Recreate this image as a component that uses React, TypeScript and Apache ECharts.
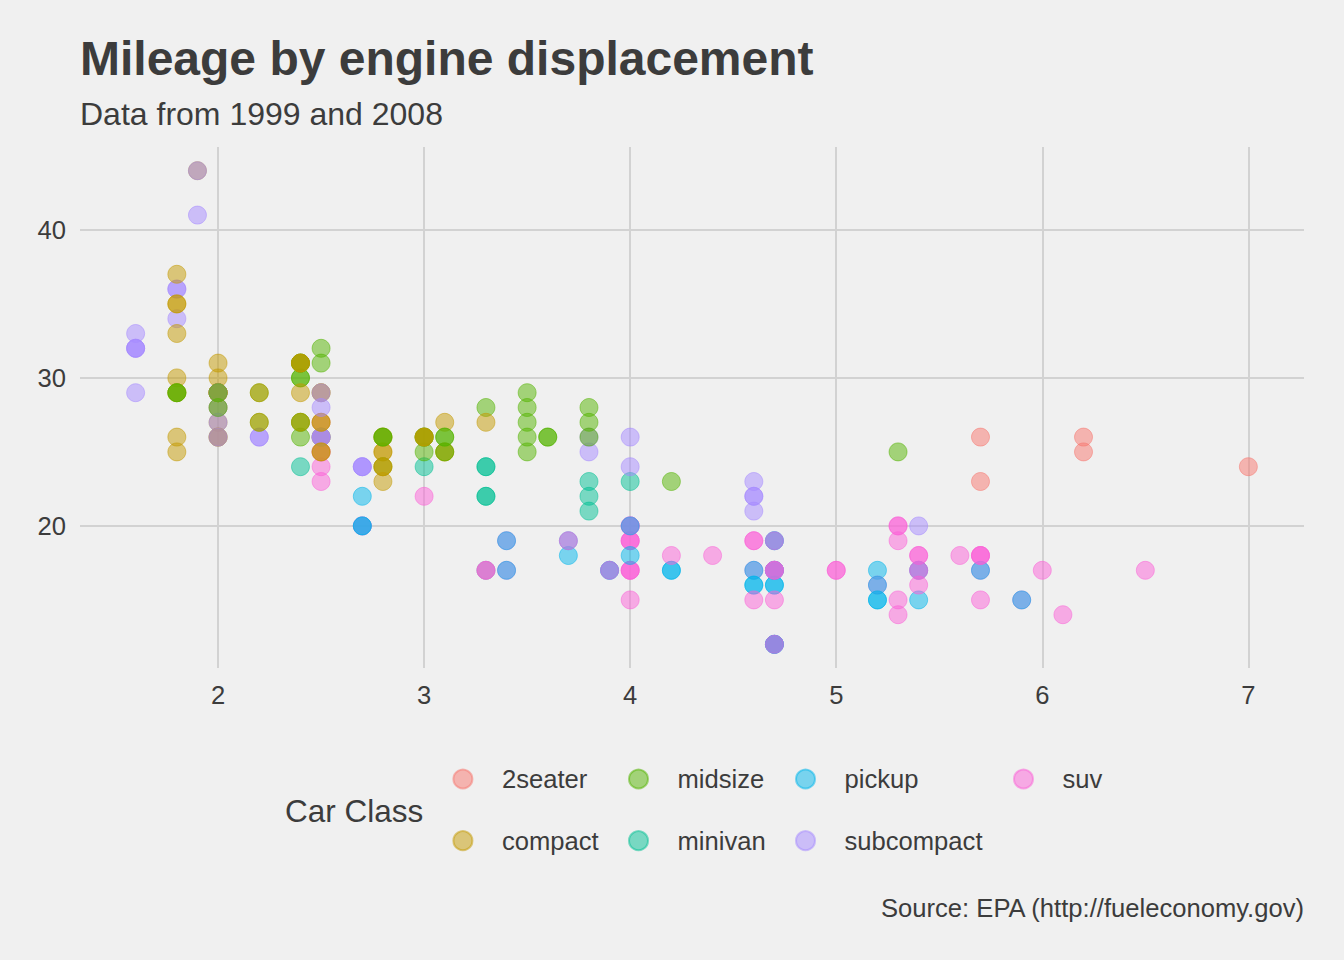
import React, { useEffect, useRef } from "react";
import * as echarts from "echarts";

// mpg data in original row order: engine displacement (L) and highway mileage (mpg)
const displ: number[] = [
  1.8, 1.8, 2.0, 2.0, 2.8, 2.8, 3.1, 1.8, 1.8, 2.0, 2.0, 2.8, 2.8, 3.1, 3.1,
  2.8, 3.1, 4.2,
  5.3, 5.3, 5.3, 5.7, 6.0,
  5.7, 5.7, 6.2, 6.2, 7.0,
  5.3, 5.3, 5.7, 6.5,
  2.4, 2.4, 3.1, 3.5, 3.6,
  2.4, 3.0, 3.3, 3.3, 3.3, 3.3, 3.3, 3.8, 3.8, 3.8, 4.0,
  3.7, 3.7, 3.9, 3.9, 4.7, 4.7, 4.7, 5.2, 5.2,
  3.9, 4.7, 4.7, 4.7, 5.2, 5.7, 5.9,
  4.7, 4.7, 4.7, 4.7, 4.7, 4.7, 5.2, 5.2, 5.7, 5.9,
  4.6, 5.4, 5.4, 4.0, 4.0, 4.0, 4.0, 4.6, 5.0,
  4.2, 4.2, 4.6, 4.6, 4.6, 5.4, 5.4,
  3.8, 3.8, 4.0, 4.0, 4.6, 4.6, 4.6, 4.6, 5.4, 1.6, 1.6, 1.6, 1.6, 1.6, 1.8, 1.8, 1.8, 2.0,
  2.4, 2.4, 2.4, 2.4, 2.5, 2.5, 3.3,
  2.0, 2.0, 2.0, 2.0, 2.7, 2.7, 2.7,
  3.0, 3.7, 4.0, 4.7, 4.7, 4.7, 5.7, 6.1, 4.0, 4.2, 4.4, 4.6, 5.4, 5.4, 5.4, 4.0, 4.0, 4.6, 5.0,
  2.4, 2.4,
  2.5, 2.5, 3.5, 3.5, 3.0, 3.0, 3.5,
  3.3, 3.3, 4.0, 5.6,
  3.1, 3.8, 3.8, 3.8, 5.3,
  2.5, 2.5, 2.5, 2.5, 2.5, 2.5,
  2.2, 2.2, 2.5, 2.5,
  2.5, 2.5, 2.5, 2.5,
  2.7, 2.7, 3.4, 3.4, 4.0, 4.7,
  2.2, 2.2, 2.4, 2.4, 3.0, 3.0, 3.5,
  2.2, 2.2, 2.4, 2.4, 3.0, 3.0, 3.3, 1.8, 1.8, 1.8, 1.8, 1.8,
  4.7, 5.7,
  2.7, 2.7, 2.7, 3.4, 3.4, 4.0, 4.0,
  2.0, 2.0, 2.0, 2.0, 2.8, 1.9, 2.0, 2.0, 2.0, 2.0, 2.5, 2.5, 2.8, 2.8,
  1.9, 1.9, 2.0, 2.0, 2.5, 2.5,
  1.8, 1.8, 2.0, 2.0, 2.8, 2.8, 3.6,
];
const hwy: number[] = [
  29, 29, 31, 30, 26, 26, 27, 26, 25, 28, 27, 25, 25, 25, 25,
  24, 25, 23,
  20, 15, 20, 17, 17,
  26, 23, 26, 25, 24,
  19, 14, 15, 17,
  27, 30, 26, 29, 26,
  24, 24, 22, 22, 24, 24, 17, 22, 21, 23, 23,
  19, 18, 17, 17, 19, 19, 12, 17, 15,
  17, 17, 12, 17, 16, 18, 15,
  16, 12, 17, 17, 16, 12, 15, 16, 17, 15,
  17, 17, 18, 17, 19, 17, 19, 19, 17,
  17, 17, 16, 16, 17, 15, 17,
  26, 25, 26, 24, 21, 22, 23, 22, 20, 33, 32, 32, 29, 32, 34, 36, 36, 29,
  26, 27, 30, 31, 26, 26, 28,
  26, 29, 28, 27, 24, 24, 24,
  22, 19, 20, 17, 12, 19, 18, 14, 15, 18, 18, 15, 17, 16, 18, 17, 19, 19, 17,
  29, 27,
  31, 32, 27, 26, 26, 25, 25,
  17, 17, 20, 18,
  26, 26, 27, 28, 25,
  25, 24, 27, 25, 26, 23,
  26, 26, 26, 26,
  25, 27, 25, 27,
  20, 20, 19, 17, 20, 17,
  29, 27, 31, 31, 26, 26, 28,
  27, 29, 31, 31, 26, 26, 27, 30, 33, 35, 37, 35,
  15, 18,
  20, 20, 22, 17, 19, 18, 20,
  29, 26, 29, 29, 24, 44, 29, 26, 29, 29, 29, 29, 23, 24,
  44, 41, 29, 26, 28, 29,
  29, 29, 28, 29, 26, 26, 26,
];
// class of each consecutive run of rows: [class, number of rows]
const classRuns: [string, number][] = [
  ["compact", 15], ["midsize", 3], ["suv", 5], ["2seater", 5], ["suv", 4], ["midsize", 5], ["minivan", 11],
  ["pickup", 9], ["suv", 7], ["pickup", 10], ["suv", 9], ["pickup", 7], ["subcompact", 18], ["midsize", 7],
  ["subcompact", 7], ["suv", 19], ["compact", 2], ["midsize", 7], ["suv", 4], ["midsize", 5], ["suv", 6],
  ["subcompact", 4], ["compact", 4], ["suv", 6], ["midsize", 7], ["compact", 12], ["suv", 2], ["pickup", 7],
  ["compact", 14], ["subcompact", 6], ["midsize", 7],
];

const classNames = ["2seater", "compact", "midsize", "minivan", "pickup", "subcompact", "suv"];
const classColors = ["248,118,109", "196,154,0", "83,180,0", "0,192,148", "0,182,235", "165,138,255", "251,97,215"];

const xTicks = [2, 3, 4, 5, 6, 7];
const yTicks = [20, 30, 40];

const FONT = "'Liberation Sans', Arial, sans-serif";
const TEXT = "#3C3C3C";

// legend layout: [class index, icon centre x, icon centre y]
const legendSlots: number[][] = [
  [0, 462.7, 779], [1, 462.7, 840.7],
  [2, 638.3, 779], [3, 638.3, 840.7],
  [4, 805.3, 779], [5, 805.3, 840.7],
  [6, 1023.3, 779],
];

export default function App() {
  const ref = useRef<HTMLDivElement>(null);
  useEffect(() => {
    document.body.style.margin = "0";
    document.body.style.background = "#F0F0F0";
    const chart = echarts.init(ref.current!, undefined, { renderer: "svg" });

    const styleOf = (name: string) => {
      const c = classColors[classNames.indexOf(name)];
      return { color: `rgba(${c},0.5)`, borderColor: `rgba(${c},0.5)`, borderWidth: 1, opacity: 1 };
    };
    const rowClass: string[] = [];
    classRuns.forEach(([name, n]) => {
      for (let k = 0; k < n; k++) rowClass.push(name);
    });
    const points = displ.map((d, i) => ({ value: [d, hwy[i]], itemStyle: styleOf(rowClass[i]) }));

    const iconW = 68;
    const series: any[] = [
      {
        type: "scatter",
        name: "__grid",
        data: [],
        z: 0,
        silent: true,
        markLine: {
          silent: true,
          z: 0,
          symbol: ["none", "none"],
          label: { show: false },
          lineStyle: { color: "#D2D2D2", width: 2, type: "solid" },
          emphasis: { disabled: true },
          data: [...xTicks.map((v) => ({ xAxis: v })), ...yTicks.map((v) => ({ yAxis: v }))],
        },
      },
      {
        type: "scatter",
        name: "__points",
        data: points,
        symbol: "circle",
        symbolSize: 18,
        z: 2,
      },
      ...classNames.map((name) => ({
        type: "scatter",
        name,
        data: [],
        symbol: "circle",
        symbolSize: 18,
        itemStyle: styleOf(name),
      })),
    ];
    chart.setOption({
      animation: false,
      backgroundColor: "#F0F0F0",
      textStyle: { fontFamily: FONT },
      grid: { left: 80, right: 40, top: 147, bottom: 292, containLabel: false },
      xAxis: {
        type: "value",
        min: 1.33,
        max: 7.27,
        axisLine: { show: false },
        axisTick: { show: false },
        splitLine: { show: false },
        axisLabel: { customValues: xTicks, fontSize: 25.6, color: TEXT, margin: 14, fontFamily: FONT },
      },
      yAxis: {
        type: "value",
        min: 10.4,
        max: 45.6,
        axisLine: { show: false },
        axisTick: { show: false },
        splitLine: { show: false },
        axisLabel: { customValues: yTicks, fontSize: 25.6, color: TEXT, margin: 14, fontFamily: FONT },
      },
      legend: legendSlots.map(([ci, cx, cy]) => ({
        data: [classNames[ci]],
        left: cx - 10.3,
        top: cy - 13,
        orient: "horizontal",
        padding: 0,
        icon: "circle",
        itemWidth: iconW,
        itemHeight: 19,
        selectedMode: false,
        textStyle: { fontSize: 25.6, color: TEXT, fontFamily: FONT, lineHeight: 26 },
      })),
      graphic: [
        {
          type: "text",
          x: 80,
          y: 58,
          style: {
            text: "Mileage by engine displacement",
            fontSize: 48,
            fontWeight: "bold",
            fill: TEXT,
            fontFamily: FONT,
            verticalAlign: "middle",
            align: "left",
          },
        },
        {
          type: "text",
          x: 80,
          y: 113.5,
          style: {
            text: "Data from 1999 and 2008",
            fontSize: 32,
            fill: TEXT,
            fontFamily: FONT,
            verticalAlign: "middle",
            align: "left",
          },
        },
        {
          type: "text",
          x: 285,
          y: 811,
          style: {
            text: "Car Class",
            fontSize: 31.5,
            fill: TEXT,
            fontFamily: FONT,
            verticalAlign: "middle",
            align: "left",
          },
        },
        {
          type: "text",
          x: 1304,
          y: 907.5,
          style: {
            text: "Source: EPA (http://fueleconomy.gov)",
            fontSize: 25.6,
            fill: TEXT,
            fontFamily: FONT,
            verticalAlign: "middle",
            align: "right",
          },
        },
      ],
      series,
    });
    return () => chart.dispose();
  }, []);
  return <div ref={ref} style={{ width: 1344, height: 960, background: "#F0F0F0" }} />;
}
